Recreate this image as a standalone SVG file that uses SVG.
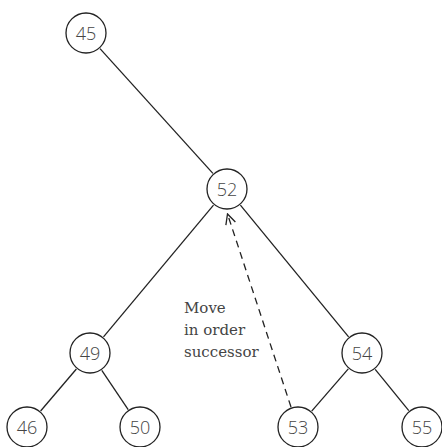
<svg xmlns="http://www.w3.org/2000/svg" width="442" height="447" viewBox="0 0 442 447">
<style>
.n circle{fill:#fff;stroke:#222;stroke-width:1.3}
.n text{font-family:"Open Sans","DejaVu Sans",sans-serif;font-weight:300;font-size:18px;fill:#444;text-anchor:middle;dominant-baseline:central}
.e{stroke:#222;stroke-width:1.3;fill:none}
.lbl{font-family:"DejaVu Serif","Liberation Serif",serif;font-size:15px;fill:#444}
</style>
<defs>
<marker id="ah" viewBox="0 0 12 12" refX="11" refY="6" markerWidth="12" markerHeight="12" markerUnits="userSpaceOnUse" orient="auto">
<path d="M1,1 L11,6 L1,11" fill="none" stroke="#222" stroke-width="1.3"/>
</marker>
</defs>
<rect width="442" height="447" fill="#fff"/>
<g id="connectors">
<line class="e" x1="100" y1="48.6" x2="212.9" y2="173.4"/>
<line class="e" x1="213.5" y1="205.1" x2="103.5" y2="336.9"/>
<line class="e" x1="240.4" y1="205.2" x2="348.6" y2="336.8"/>
<line class="e" x1="76.4" y1="369" x2="40.6" y2="411"/>
<line class="e" x1="101.8" y1="370.4" x2="128.2" y2="409.6"/>
<line class="e" x1="348.3" y1="368.9" x2="311.7" y2="411.1"/>
<line class="e" x1="375.2" y1="369.3" x2="408.8" y2="410.7"/>
<line class="e" x1="291" y1="407" x2="227.5" y2="214" stroke-dasharray="7,5" marker-end="url(#ah)"/>
</g>
<g id="n45" class="n"><circle cx="86" cy="33" r="20"/><text x="86" y="33">45</text></g>
<g id="n52" class="n"><circle cx="227" cy="189" r="20"/><text x="227" y="189">52</text></g>
<g id="n49" class="n"><circle cx="90" cy="353" r="20"/><text x="90" y="353">49</text></g>
<g id="n54" class="n"><circle cx="362" cy="353" r="20"/><text x="362" y="353">54</text></g>
<g id="n46" class="n"><circle cx="27" cy="427" r="20"/><text x="27" y="427">46</text></g>
<g id="n50" class="n"><circle cx="140" cy="427" r="20"/><text x="140" y="427">50</text></g>
<g id="n53" class="n"><circle cx="298" cy="427" r="20"/><text x="298" y="427">53</text></g>
<g id="n55" class="n"><circle cx="422" cy="427" r="20"/><text x="422" y="427">55</text></g>
<g id="label">
<text class="lbl" x="184" y="313">Move</text>
<text class="lbl" x="184" y="335">in order</text>
<text class="lbl" x="184" y="357">successor</text>
</g>
</svg>
